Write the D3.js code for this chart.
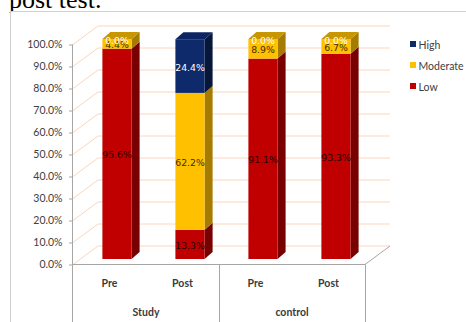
<!DOCTYPE html>
<html>
<head>
<meta charset="utf-8">
<script src="https://cdn.jsdelivr.net/npm/d3@7"></script>
<style>
  html, body { margin: 0; padding: 0; background: #fff; }
  svg { display: block; }
</style>
</head>
<body>
<svg id="chart" width="466" height="322"></svg>
<script>
// Stacked 3D column chart: levels per group and test phase
const categories = ["Pre", "Post", "Pre", "Post"];
const groupNames = ["Study", "control"];
const groupOf = [0, 0, 1, 1];
const seriesNames = ["Low", "Moderate", "High"];
const lowValues = [95.6, 13.3, 91.1, 93.3];
const moderateValues = [4.4, 62.2, 8.9, 6.7];
const highValues = [0.0, 24.4, 0.0, 0.0];
const yTicks = [0, 10, 20, 30, 40, 50, 60, 70, 80, 90, 100];
const headingText = "post test.";

const seriesValues = [lowValues, moderateValues, highValues];
const faceColors = {
  Low:      { front: "#c00000", side: "#780000", top: "#9a0000", label: "#2a0000" },
  Moderate: { front: "#ffc000", side: "#a67c00", top: "#c89600", label: "#3a3000" },
  High:     { front: "#0e2a6b", side: "#071739", top: "#0c2461", label: "#ffffff" }
};

const svg = d3.select("#chart");

// heading line of the surrounding text, partly above the frame
svg.append("text")
  .attr("x", 9).attr("y", 8)
  .attr("font-family", "Liberation Serif, Times New Roman, serif")
  .attr("font-size", 26)
  .attr("fill", "#000")
  .text(headingText);

// chart frame
svg.append("rect")
  .attr("x", 10.5).attr("y", 11.5)
  .attr("width", 470).attr("height", 330)
  .attr("fill", "#fff")
  .attr("stroke", "#d0d0d0");

// scales
const x = d3.scaleBand().domain(d3.range(categories.length)).range([73, 365]).padding(0);
const y = d3.scaleLinear().domain([0, 100]).range([264.5, 44.5]);

// depth of the plot box and of each bar
const DX = 25, DY = -18.5;
const barShiftX = 7.5, barShiftY = -5.5;
const barDX = 8, barDY = -7;
const barW = x.bandwidth() * 0.4;

// back wall gridlines with their diagonal on the side wall
const grid = svg.append("g").attr("fill", "none").attr("stroke", "#f9d6bd").attr("stroke-width", 1);
yTicks.forEach(v => {
  const y0 = y(v);
  grid.append("path")
    .attr("d", `M73,${y0}L${73 + DX},${y0 + DY}L${365 + DX},${y0 + DY}`);
});

// floor edges
const floorG = svg.append("g").attr("fill", "none").attr("stroke", "#a6a6a6").attr("stroke-width", 1);
floorG.append("path").attr("d", `M365,${y(0)}L${365 + DX},${y(0) + DY}`);

// bars
const bars = svg.append("g");
categories.forEach((c, i) => {
  const left = x(i) + (x.bandwidth() - barW) / 2 + barShiftX;
  const right = left + barW;
  let acc = 0;
  let topSeries = null;
  const segs = [];
  seriesValues.forEach((vals, s) => {
    const v = vals[i];
    segs.push({ name: seriesNames[s], v, y0: acc, y1: acc + v });
    acc += v;
    if (v > 0) topSeries = seriesNames[s];
  });
  segs.forEach(sg => {
    if (sg.v <= 0) return;
    const yb = y(sg.y0) + barShiftY, yt = y(sg.y1) + barShiftY;
    const col = faceColors[sg.name];
    // side face
    bars.append("path")
      .attr("d", `M${right},${yb}L${right + barDX},${yb + barDY}L${right + barDX},${yt + barDY}L${right},${yt}Z`)
      .attr("fill", col.side);
    // front face
    bars.append("rect")
      .attr("x", left).attr("y", yt)
      .attr("width", barW).attr("height", yb - yt)
      .attr("fill", col.front);
  });
  // top face
  const yTop = y(acc) + barShiftY;
  bars.append("path")
    .attr("d", `M${left},${yTop}L${left + barDX},${yTop + barDY}L${right + barDX},${yTop + barDY}L${right},${yTop}Z`)
    .attr("fill", faceColors[topSeries].top);
  // value labels
  segs.forEach(sg => {
    const yb = y(sg.y0) + barShiftY, yt = y(sg.y1) + barShiftY;
    bars.append("text")
      .attr("x", (left + right) / 2)
      .attr("y", (yb + yt) / 2 + 1)
      .attr("text-anchor", "middle")
      .attr("dominant-baseline", "central")
      .attr("font-family", "DejaVu Sans, Verdana, sans-serif")
      .attr("font-size", 9.3)
      .attr("fill", faceColors[sg.name].label)
      .text(sg.v.toFixed(1) + "%");
  });
});

// value axis
const axis = d3.axisLeft(y)
  .tickValues(yTicks)
  .tickSize(4)
  .tickPadding(6.5)
  .tickFormat(d => d.toFixed(1) + "%");
const axG = svg.append("g").attr("transform", "translate(73,0)").call(axis);
axG.select(".domain").attr("stroke", "#a6a6a6").attr("d", `M-0.5,${y(100)}V330`);
axG.selectAll(".tick line").attr("stroke", "#a6a6a6");
axG.selectAll(".tick text")
  .attr("font-family", "Lato, Calibri, sans-serif")
  .attr("font-size", 10.5)
  .attr("fill", "#404040");

// category table below the floor
const catG = svg.append("g").attr("stroke", "#a6a6a6").attr("fill", "none");
catG.append("path").attr("d", `M72.5,${y(0)}H365`);
[x(2), 365].forEach(px => {
  catG.append("path").attr("d", `M${Math.round(px) + 0.5},${y(0)}V330`);
});

const labG = svg.append("g")
  .attr("font-family", "Lato, Calibri, sans-serif")
  .attr("font-size", 10.5)
  .attr("font-weight", "bold")
  .attr("fill", "#3a3a3a")
  .attr("text-anchor", "middle")
  .attr("dominant-baseline", "central");
categories.forEach((c, i) => {
  labG.append("text").attr("x", x(i) + x.bandwidth() / 2).attr("y", 283).text(c);
});
groupNames.forEach((g, gi) => {
  const idx = d3.range(categories.length).filter(i => groupOf[i] === gi);
  const cx = (x(idx[0]) + x(idx[idx.length - 1]) + x.bandwidth()) / 2;
  labG.append("text").attr("x", cx).attr("y", 311.5).text(g);
});

// legend (top series first)
const legendItems = seriesNames.slice().reverse();
const legG = svg.append("g").attr("transform", "translate(410,0)");
legendItems.forEach((name, k) => {
  const cy = 44.5 + k * 21;
  legG.append("rect").attr("x", 0).attr("y", cy - 3.5).attr("width", 6).attr("height", 6)
    .attr("fill", faceColors[name].front);
  legG.append("text").attr("x", 8.5).attr("y", cy)
    .attr("dominant-baseline", "central")
    .attr("font-family", "Lato, Calibri, sans-serif")
    .attr("font-size", 10.5)
    .attr("fill", "#404040")
    .text(name);
});
</script>
</body>
</html>
